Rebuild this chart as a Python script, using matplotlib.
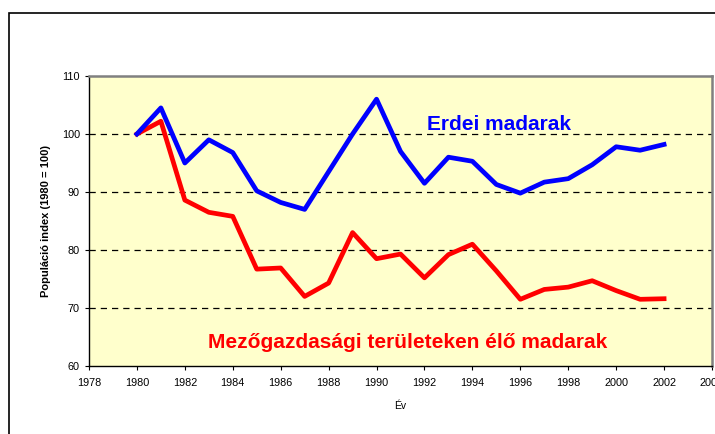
import matplotlib.pyplot as plt
from matplotlib.patches import Rectangle

# data
years = list(range(1980, 2003))
forest_birds = [100, 104.5, 95, 99, 96.8, 90.2, 88.2, 87, 93.5, 100, 106, 97,
                91.5, 96, 95.3, 91.3, 89.8, 91.7, 92.3, 94.7, 97.8, 97.2, 98.2]
farmland_birds = [100, 102.2, 88.6, 86.5, 85.8, 76.7, 76.9, 72, 74.3, 83, 78.5, 79.3,
                  75.2, 79.2, 81, 76.4, 71.5, 73.2, 73.6, 74.7, 73, 71.5, 71.6]
xticks = list(range(1978, 2006, 2))
yticks = [60, 70, 80, 90, 100, 110]

plt.rcParams['font.family'] = ['Liberation Sans', 'DejaVu Sans']

fig = plt.figure(figsize=(7.15, 4.34), dpi=100)

# outer chart frame (right and bottom edges fall outside the picture)
fig.patches.append(Rectangle((9/715, -0.1), 1.2, 1 - 13/434 + 0.1, transform=fig.transFigure,
                             fill=False, edgecolor='black', linewidth=1.2))

ax = fig.add_axes([89/715, 1 - 366/434, 623/715, 290/434])
ax.set_facecolor('#FFFFCC')

for y in yticks[1:-1]:
    ax.axhline(y, color='black', linestyle=(0, (5, 4)), linewidth=0.9, zorder=1)

ax.plot(years, farmland_birds, color='#FF0000', linewidth=3.4, zorder=2)
ax.plot(years, forest_birds, color='#0000FF', linewidth=3.4, zorder=3)

ax.set_xlim(1978, 2004)
ax.set_ylim(60, 110)
ax.set_xticks(xticks)
ax.set_yticks(yticks)
ax.tick_params(axis='both', labelsize=7.8, direction='out', length=3, width=0.8)
ax.tick_params(axis='x', pad=6)

for s in ['left', 'bottom']:
    ax.spines[s].set_color('black')
    ax.spines[s].set_linewidth(1.0)
for s in ['top', 'right']:
    ax.spines[s].set_color('#808080')
    ax.spines[s].set_linewidth(1.8)

ax.set_ylabel('Populáció index (1980 = 100)', fontsize=8, fontweight='bold', labelpad=8)
ax.set_xlabel('Év', fontsize=7.5, labelpad=9)

ax.text(1995.1, 101.7, 'Erdei madarak', color='#0000FF', fontsize=15,
        fontweight='bold', ha='center', va='center')
ax.text(1991.3, 64.0, 'Mezőgazdasági területeken élő madarak', color='#FF0000', fontsize=15,
        fontweight='bold', ha='center', va='center')

fig.savefig('out.png', dpi=100)
